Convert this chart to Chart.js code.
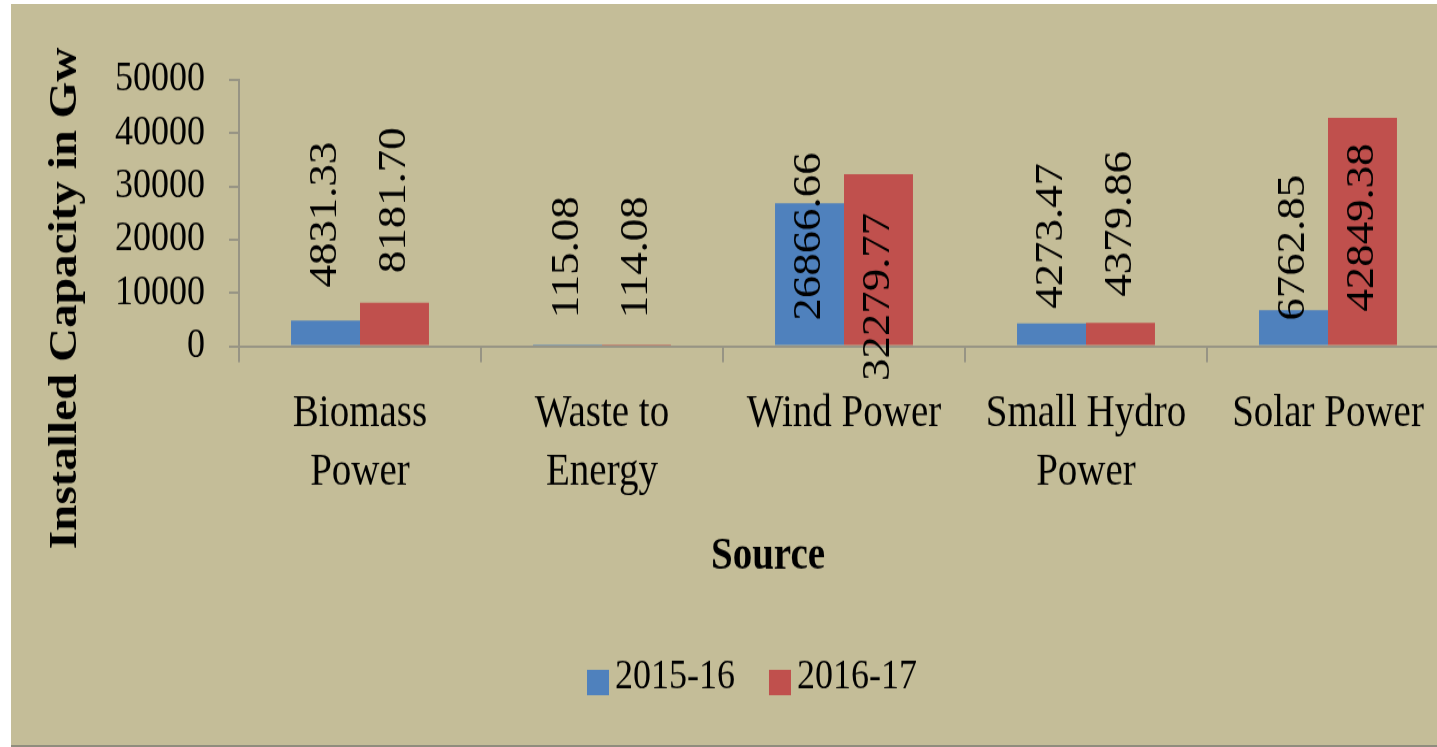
<!DOCTYPE html>
<html>
<head>
<meta charset="utf-8">
<script src="https://cdn.jsdelivr.net/npm/chart.js@4.4.0/dist/chart.umd.min.js"></script>
<style>
  html, body { margin: 0; padding: 0; background: #fff; overflow: hidden; width: 1437px; height: 747px; }
  #frame { position: absolute; left: 11px; top: 4px; width: 1426px; height: 741px; background: #C4BD98; border-bottom: 2px solid #8f8d7d; overflow: hidden; }
  /* the original picture is a bit stretched vertically */
  #chart { display: block; transform: scaleY(1.15); transform-origin: 0 0; }
</style>
</head>
<body>
<div id="frame"><canvas id="chart" width="1450" height="644"></canvas></div>
<script>
// Installed capacity by renewable source
const categories = [['Biomass', 'Power'], ['Waste to', 'Energy'], 'Wind Power', ['Small Hydro', 'Power'], 'Solar Power'];
const seriesNames = ['2015-16', '2016-17'];
const values2015 = [4831.33, 115.08, 26866.66, 4273.47, 6762.85];
const values2016 = [8181.70, 114.08, 32279.77, 4379.86, 42849.38];
const yTicks = [0, 10000, 20000, 30000, 40000, 50000];

// where the rotated value labels sit in the original, in axis units
const labelMid2015 = [24700, 16700, 20600, 20700, 18500];
const labelMid2016 = [27400, 16700, 9300, 23000, 22300];

const SERIF = '"Liberation Serif", "Times New Roman", serif';
const AXIS = '#979484';

const decorations = {
  id: 'decorations',
  afterDraw(chart) {
    const ctx = chart.ctx;
    const yScale = chart.scales.y;
    ctx.save();
    ctx.fillStyle = '#000';

    // value labels, rotated
    ctx.font = `39px ${SERIF}`;
    ctx.textAlign = 'center';
    ctx.textBaseline = 'middle';
    [labelMid2015, labelMid2016].forEach((mids, d) => {
      chart.getDatasetMeta(d).data.forEach((bar, i) => {
        const v = chart.data.datasets[d].data[i];
        ctx.save();
        ctx.translate(bar.x, yScale.getPixelForValue(mids[i]));
        ctx.rotate(-Math.PI / 2);
        ctx.fillText(v.toFixed(2), 0, 0);
        ctx.restore();
      });
    });

    // y axis title
    ctx.save();
    ctx.font = `bold 41px ${SERIF}`;
    ctx.translate(54, 256);
    ctx.rotate(-Math.PI / 2);
    ctx.fillText('Installed Capacity in Gw', 0, 0);
    ctx.restore();

    // x axis title
    ctx.font = `bold 39px ${SERIF}`;
    ctx.fillText('Source', 757, 481);

    // legend
    ctx.font = `36px ${SERIF}`;
    ctx.textAlign = 'left';
    let x = 576;
    chart.data.datasets.forEach(ds => {
      ctx.fillStyle = ds.backgroundColor;
      ctx.fillRect(x, 579, 22, 22);
      x += 28;
      ctx.fillStyle = '#000';
      ctx.fillText(ds.label, x, 586);
      x += ctx.measureText(ds.label).width + 34;
    });
    ctx.restore();
  }
};

new Chart(document.getElementById('chart'), {
  type: 'bar',
  data: {
    labels: categories,
    datasets: [
      { label: seriesNames[0], data: values2015, backgroundColor: '#4F81BD' },
      { label: seriesNames[1], data: values2016, backgroundColor: '#C0504D' }
    ]
  },
  options: {
    responsive: false,
    devicePixelRatio: 1,
    animation: false,
    layout: { padding: { top: 66, left: 80, right: 12, bottom: 191 } },
    datasets: { bar: { categoryPercentage: 0.57, barPercentage: 1 } },
    plugins: {
      legend: { display: false },
      tooltip: { enabled: false }
    },
    scales: {
      x: {
        grid: { drawOnChartArea: false, tickLength: 14, color: AXIS, lineWidth: 2 },
        border: { color: AXIS, width: 2 },
        ticks: {
          font: { family: SERIF, size: 39, lineHeight: 1.3 },
          color: '#000', padding: 20, maxRotation: 0, autoSkip: false
        }
      },
      y: {
        min: 0,
        max: 50000,
        afterBuildTicks: axis => { axis.ticks = yTicks.map(v => ({ value: v })); },
        grid: { drawOnChartArea: false, tickLength: 10, color: AXIS, lineWidth: 2 },
        border: { color: AXIS, width: 2 },
        ticks: {
          font: { family: SERIF, size: 36 },
          color: '#000', padding: 24, autoSkip: false,
          callback: v => String(v)
        }
      }
    }
  },
  plugins: [decorations]
});
</script>
</body>
</html>
